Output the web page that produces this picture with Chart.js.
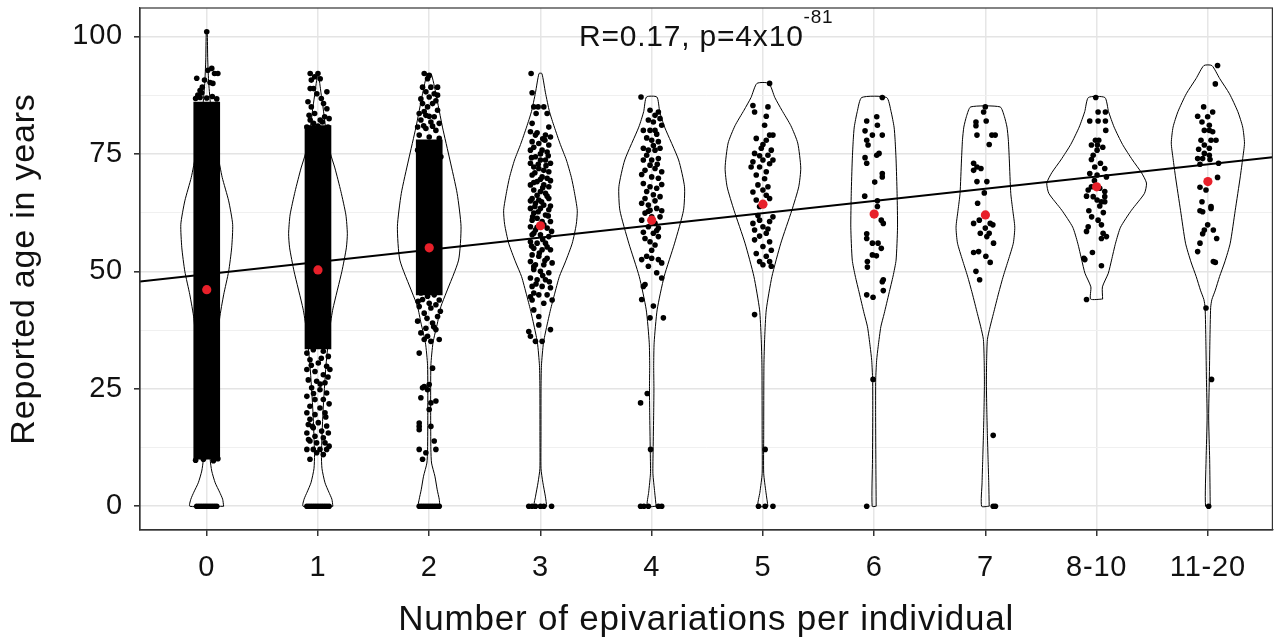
<!DOCTYPE html>
<html>
<head>
<meta charset="utf-8">
<script src="https://cdn.jsdelivr.net/npm/chart.js@4/dist/chart.umd.min.js"></script>
<style>
  html, body { margin: 0; padding: 0; background: #fff; }
  #wrap { width: 1277px; height: 642px; }
</style>
</head>
<body>
<div id="wrap"><canvas id="chart" width="1277" height="642"></canvas></div>
<script>
// ---- data ----
const categories = ['0', '1', '2', '3', '4', '5', '6', '7', '8-10', '11-20'];
const means = [46.1, 50.3, 55.0, 59.7, 60.9, 64.3, 62.2, 62.0, 68.0, 69.1];
const fitIntercept = 49.4;
const fitSlope = 2.6;
const statText = ['R=0.17, p=4x10', '-81'];
const yTicks = [0, 12.5, 25, 37.5, 50, 62.5, 75, 87.5, 100];

// solid runs of overlapping points (age from, age to) for groups 0, 1, 2
const denseBands = [[10, 86], [33.5, 81], [45, 78]];

// violin outlines: [age, half width in category units]
const violin0 = [[0,0.152],[1.5,0.143],[3,0.116],[5,0.076],[7.5,0.045],[10,0.031],[15,0.040],[20,0.054],[30,0.081],[40,0.116],[45,0.152],[50,0.197],[55,0.224],[60,0.233],[65,0.197],[70,0.139],[75,0.098],[80,0.063],[85,0.036],[90,0.018],[95,0.009],[101,0.004]];
const violin1 = [[0,0.134],[1.5,0.125],[3,0.098],[5,0.063],[8,0.036],[11,0.031],[20,0.045],[30,0.072],[38,0.107],[42,0.134],[50,0.215],[55,0.255],[58,0.264],[62,0.251],[67,0.206],[72,0.152],[75,0.113],[80,0.072],[85,0.045],[88,0.027],[92,0.004]];
const violin2 = [[0,0.096],[1.5,0.090],[3.5,0.072],[6.4,0.051],[9.2,0.021],[12,0.015],[20,0.013],[30,0.015],[34.8,0.034],[39,0.074],[42.5,0.105],[45.4,0.152],[52.4,0.264],[59.5,0.286],[66.6,0.251],[73.7,0.186],[80.7,0.119],[87.8,0.060],[92,0.018]];
const violin3 = [[0,0.056],[2,0.045],[5,0.022],[8,0.005],[15,0.0045],[25,0.005],[30,0.009],[34.8,0.027],[38,0.054],[41.8,0.090],[45,0.125],[48.9,0.170],[52,0.224],[56,0.286],[60,0.322],[63,0.331],[67,0.304],[70,0.278],[73.7,0.233],[77,0.179],[80.7,0.125],[84,0.081],[88,0.045],[92.1,0.013]];
const violin4 = [[0,0.040],[3,0.027],[7,0.011],[12,0.013],[20,0.018],[25,0.020],[30,0.018],[34.8,0.022],[41.8,0.049],[48.9,0.112],[56,0.206],[63,0.286],[68,0.295],[73.7,0.242],[80.7,0.116],[84,0.072],[87.1,0.047]];
const violin5 = [[0,0.045],[3,0.027],[7,0.007],[15,0.007],[30,0.009],[36,0.016],[41.8,0.030],[48.9,0.081],[56,0.161],[63,0.260],[68,0.322],[72,0.340],[77.3,0.313],[81,0.251],[84.3,0.170],[87,0.107],[90,0.054]];
const violin6 = [[0,0.018],[10,0.015],[20,0.013],[27,0.014],[31,0.022],[34,0.036],[38.2,0.060],[41,0.090],[45.4,0.134],[49,0.170],[52.4,0.197],[59.4,0.210],[66.6,0.206],[73.7,0.197],[78,0.188],[80.7,0.179],[84,0.152],[87,0.112]];
const violin7 = [[0,0.034],[5,0.030],[10,0.024],[15,0.018],[20,0.013],[26,0.009],[31,0.011],[35.5,0.018],[38.2,0.042],[41,0.072],[45.4,0.119],[49,0.161],[52.4,0.206],[56,0.251],[59.4,0.264],[63,0.246],[66.6,0.228],[73.7,0.215],[78,0.206],[80.7,0.194],[83,0.170],[85,0.132]];
const violin8 = [[44.1,0.054],[46.7,0.052],[49.6,0.105],[52.4,0.134],[56,0.170],[59.4,0.215],[63,0.313],[66.6,0.430],[68.8,0.448],[71,0.403],[73.7,0.322],[77,0.233],[80.7,0.157],[84,0.107],[87,0.074]];
const violin9 = [[0,0.021],[10,0.016],[19,0.007],[27,0.013],[35,0.018],[42.3,0.025],[44,0.036],[46,0.067],[48.9,0.105],[52,0.152],[56,0.201],[63,0.246],[70.1,0.291],[74,0.313],[77.3,0.329],[80.7,0.313],[84,0.269],[87.8,0.194],[91,0.107],[93.8,0.036]];

// jittered individuals: [offset from group centre, age]
const jitter0 = [[0,101],[-0.09,91.1],[-0.06,88.5],[-0.04,89.2],[0.01,92.8],[0.045,93.2],[0.07,92.1],[0.1,92.1],[0.03,90.2],[0.055,90],[-0.02,90.7],[-0.08,87.5],[-0.045,88],[-0.1,86.8],[-0.06,87],[0,86.9],[0.05,87.2],[0.09,86.7],
  [-0.1,9.8],[-0.03,10],[0.06,9.7],[0.1,10.1],
  [-0.09,0],[-0.07,0],[-0.05,0],[-0.03,0],[-0.01,0],[0.01,0],[0.03,0],[0.05,0],[0.07,0],[0.09,0]];
const jitter1 = [[-0.07,92.1],[0,92.1],[-0.03,91.4],[-0.06,90.7],[0.02,91],[-0.07,88.9],[-0.04,88.9],[-0.01,87.8],[0.08,88.2],[-0.09,86.1],[-0.06,85],[0.03,86.8],[0.05,85.7],[0.08,84.6],[-0.03,83.6],[0.06,82.9],[0.02,82.2],[-0.07,82.2],[-0.1,80.7],[0.09,80.7],[-0.04,81.5],[0,80.9],[0.04,81.8],[-0.08,83.2],[0.1,82.5],
  [-0.1,32.6],[-0.042,33.3],[0.048,33],[0.093,31.9],[-0.072,31.2],[0.003,30.5],[0.078,29.8],[-0.1,29.1],[-0.027,28.7],[0.048,28],[0.107,29.1],[-0.087,26.9],[-0.012,26.6],[0.063,26.3],[-0.057,25.2],[0.018,24.8],[0.078,24.1],[-0.1,23.4],[-0.027,22.7],[0.048,22.7],[-0.072,21.3],[0.018,20.9],[-0.1,19.9],[-0.027,19.5],[0.063,19.9],[-0.072,18.5],[0.003,17.8],[0.078,17.1],[-0.042,16.7],[0.033,16],[-0.1,15.6],[-0.027,14.9],[0.048,14.6],[-0.072,13.9],[-0.012,13.5],[0.063,13.5],[-0.1,12.1],[-0.042,12.1],[0.018,12.1],[0.078,12.1],[0.048,11],[-0.072,10],[-0.012,11.4],[0.093,15.6],[-0.087,17.4],
  [-0.06,30],[0.03,31.5],[0.09,27.5],[-0.04,24],[0.1,21.8],[0.07,19],[-0.085,14.2],[0.1,12.8],[-0.05,17],[0.02,26],
  [-0.1,0],[-0.08,0],[-0.06,0],[-0.04,0],[-0.02,0],[0,0],[0.02,0],[0.04,0],[0.06,0],[0.08,0],[0.1,0]];
const jitter2 = [[-0.045,92.1],[0,91.7],[-0.015,91],[-0.06,89.2],[0.015,89.2],[0.075,89.2],[-0.03,88.2],[0.045,87.8],[0,87.1],[0.075,87.5],[-0.06,85.7],[0.03,85.7],[-0.015,85],[0.075,84.3],[-0.09,83.6],[-0.03,83.2],[0.045,82.9],[-0.075,82.2],[0.015,81.8],[0.09,81.5],[-0.104,80.7],[-0.03,80.4],[0.06,80],[-0.09,79],[0,78.6],[0.09,78.3],[-0.06,77.2],[0.03,76.9],[-0.104,75.8],[0.075,75.4],[0.105,74.4],
  [-0.045,84],[0.06,86.3],[-0.075,86.7],[0,83],[0.03,80.9],[-0.05,81],
  [-0.075,45.4],[-0.015,44.7],[0.045,45],[0.09,43.9],[-0.09,42.5],[0.015,42.2],[-0.045,41.1],[0.075,40.4],[-0.104,39.4],[0.03,39],[-0.03,37.9],[0.06,37.6],[-0.075,36.9],[-0.015,36.2],[0.09,35.5],[0.015,35.1],[-0.045,35.5],[-0.09,32.6],[0.03,29.4],[-0.045,25.5],[0,25.9],[-0.06,25.2],[-0.015,24.8],[-0.075,23.1],[0.015,22],[0.06,22.4],[0,20.6],[-0.09,17.7],[-0.09,17],[-0.09,16.3],[0.015,17],[0.045,13.9],[-0.09,12.1],[-0.03,11.4],[-0.06,10],[0.06,12.1],
  [0,43.2],[-0.06,44],[0.06,42.9],[0.1,41.5],[-0.02,40],[0.04,38.2],[-0.1,43.6],
  [-0.09,0],[-0.07,0],[-0.05,0],[-0.03,0],[-0.01,0],[0.01,0],[0.03,0],[0.05,0],[0.07,0],[0.09,0]];
const jitter3 = [[-0.084,92.1],[-0.075,88],[-0.06,85],[-0.021,85],[0.03,85],[-0.039,83.6],[0.06,83.6],[-0.075,81.5],[0.075,80.7],[-0.09,79.7],[-0.045,79],[0.045,79],[0.09,78.6],[-0.075,77.6],[-0.015,77.2],[0.075,76.9],[-0.09,75.8],[0.015,75.8],[0.06,75.4],[-0.045,74.4],[0,73.7],[0.045,73.7],[-0.09,73],[0.09,73],[-0.06,72.2],[-0.015,71.9],[0.03,71.5],[0.075,71.2],[-0.075,70.5],[0.015,70.1],[0.06,69.8],[-0.03,69.1],[-0.09,68.4],[0.03,68.4],[0.075,68],[-0.06,67.3],[0,67],[0.045,66.6],[-0.075,65.5],[-0.015,65.2],[0.075,65.5],[-0.045,64.5],[0.03,64.1],[-0.09,63.4],[0,63.4],[0.075,63.1],[-0.06,62.4],[0.045,62],[-0.075,60.9],[-0.03,61.3],[0.015,60.6],[0.09,60.6],[-0.09,59.5],[-0.045,58.8],[0.06,59.2],[-0.075,57.8],[0,57.8],[0.075,57.4],[-0.09,56.3],[-0.03,56],[0.045,56],[-0.06,54.9],[0.015,54.6],[0.09,54.6],[-0.075,53.5],[-0.015,53.2],[0.06,52.8],[-0.09,52.1],[-0.045,51.4],[0.03,51.4],[0.105,51.8],[-0.06,50.4],[0,50],[0.075,49.7],[-0.09,48.6],[-0.03,48.2],[0.045,48.2],[-0.075,46.8],[0.015,46.8],[0.09,46.5],[-0.06,45.4],[-0.015,45],[0.06,45],
  [-0.03,79.5],[0.02,78.2],[-0.06,76.4],[0.04,77.9],[0,75],[-0.08,74.2],[0.07,74.6],[-0.02,72.8],[0.05,72.5],[-0.05,71],[0,69.6],[0.09,69.3],[-0.06,68.9],[0.02,67.8],[-0.03,66.2],[0.06,66],[-0.09,65],[0.01,64.8],[-0.05,63.8],[0.09,63.9],[-0.02,62.7],[0.07,61.8],[-0.07,61.6],[0.03,59.9],[-0.03,59.4],[0.1,58.5],[-0.06,58.1],[0.02,56.8],[-0.08,55.4],[0.06,55.2],[-0.01,53.9],[0.04,52.3],[-0.06,51],[0.02,49.1],[-0.04,47.3],[0.08,47.8],[-0.09,44.6],
  [-0.075,43.9],[0.03,43.2],[0.105,43.9],[-0.06,41.8],[-0.015,40.4],[-0.105,37.2],[-0.015,38.6],[-0.09,36.2],[-0.045,35.1],[0.015,35.1],[0.09,37.6],
  [-0.105,0],[-0.075,0],[-0.045,0],[0,0],[0.03,0],[0.1,0]];
const jitter4 = [[-0.096,87.1],[-0.015,84.3],[0.06,83.9],[0.03,83.2],[-0.03,82.2],[0.015,81.8],[0.075,82.5],[-0.075,80],[-0.015,80],[0.09,81.1],[0.03,80],[0,77.9],[0.06,77.6],[-0.075,76.2],[-0.03,75.8],[0.03,75.8],[0.075,76.2],[-0.045,74.7],[0,73.7],[0.06,74],[-0.075,73.7],[-0.015,72.6],[0.03,71.9],[-0.06,71.5],[0.09,71.2],[0,70.1],[0.06,69.8],[-0.075,68.7],[-0.015,68],[0.045,67.7],[-0.045,67],[0.015,66.3],[0.075,65.9],[-0.09,64.5],[-0.03,64.1],[0.045,63.4],[-0.06,62.4],[0,61.6],[0.075,61.6],[-0.09,60.9],[0.03,60.2],[-0.03,59.5],[0.06,59.2],[0.015,58.1],[-0.06,57],[0.06,57.4],[-0.015,56.3],[0.03,55.6],[-0.09,52.5],[-0.045,53.2],[0,52.8],[0.06,52.5],[0.09,51.8],[-0.03,51.1],[0.045,49.7],[0.09,48.6],[-0.06,47.2],[-0.075,46.8],[-0.09,44],[0.015,42.6],[-0.015,40.1],[0.105,40.1],
  [0.045,79.2],[-0.045,78.4],[0.015,76.8],[-0.06,65.5],[0.03,65],[0.09,62.9],[-0.015,63],[0.045,58.7],[-0.075,58.3],[0,54.5],[-0.03,62.8],[0.09,68.5],[-0.09,70.6],[0.05,72.8],
  [-0.1,22],[-0.04,24],[-0.01,12.1],
  [-0.1,0],[-0.07,0],[-0.03,0],[0.06,0],[0.09,0]];
const jitter5 = [[0.06,90],[-0.09,85.3],[0.045,85],[-0.075,83.9],[0.015,81.1],[0.06,79],[0.09,79],[0.03,77.9],[-0.015,76.2],[0.075,75.8],[-0.075,75.1],[0.045,74.7],[-0.09,73.3],[0,73.7],[0.09,73.7],[-0.106,72.2],[-0.03,72.2],[0.03,71.2],[-0.045,68.4],[0.045,68],[0,67.3],[-0.06,65.2],[0.06,65.5],[-0.03,63.8],[-0.09,60.2],[-0.03,60.9],[0.06,60.6],[-0.075,58.8],[0,59.5],[0.03,58.1],[-0.075,56.7],[0,55.3],[0.06,56.3],[-0.03,52.1],[0.06,52.1],[0,51.4],[0.075,51.1],[-0.075,40.8],
  [0.03,83],[-0.06,78.3],[0,77],[-0.03,74.6],[0.06,72.9],[-0.06,70.5],[0.015,69.7],[-0.09,66.9],[0.03,66.2],[0.09,61.6],[-0.045,61.9],[0.045,59],[-0.03,57.5],[0.075,54.5],[-0.06,53.8],[0.03,53.2],
  [0.02,12.1],[-0.04,0],[0.02,0],[0.09,0]];
const jitter6 = [[0.073,87],[-0.067,82],[0.023,82.9],[-0.082,79.9],[0.029,81.1],[-0.016,79],[0.073,79],[-0.067,77.9],[-0.055,76.9],[0.044,75.1],[0.023,74.7],[-0.082,74.2],[-0.067,73],[0.005,69],[0.073,70.8],[0.073,70.1],[-0.085,66],[0.029,65],[0.029,63.8],[0.064,60.9],[0.082,60.2],[-0.067,58],[-0.067,57],[-0.016,56],[0.035,56],[0.064,54.9],[-0.016,53.5],[0.02,53.3],[-0.061,52.1],[-0.061,50.9],[0.082,48.2],[0.073,47.8],[0.082,45.9],[-0.067,45],[-0.01,44.5],
  [-0.01,27],[-0.067,0]];
const jitter7 = [[-0.001,85],[-0.016,83.9],[-0.085,81.8],[0.007,82],[-0.085,81],[-0.076,79],[0.058,79],[0.088,79],[0.034,77],[-0.106,73],[-0.076,72.2],[-0.04,71.9],[-0.106,71.5],[-0.076,69.1],[0.013,69.1],[-0.01,66.7],[-0.07,64.5],[-0.106,60.2],[-0.055,60.9],[0.043,60.2],[0.067,59.9],[-0.001,59.2],[-0.046,58.1],[0.034,58.1],[0.013,57.4],[0.073,56],[-0.106,54],[-0.061,54.2],[0.004,53.2],[0.043,51.9],[-0.085,50],[-0.052,48.2],
  [0.07,15.1],[0.07,0],[0.09,0]];
const jitter8 = [[-0.008,87],[-0.062,82],[0.013,83.9],[0.079,83.9],[0.013,82],[0.079,82],[0.082,80],[-0.011,77.9],[0.019,77.9],[-0.047,76.9],[0.007,76.9],[0.004,75.8],[-0.031,74.7],[-0.047,73.8],[0.034,73],[-0.017,72.2],[0.073,71.9],[-0.062,70.8],[0.004,70.5],[0.088,70.1],[-0.047,68],[-0.076,67.3],[0.028,67.7],[0.073,67],[-0.091,66],[-0.031,65.9],[0.073,65.9],[0.004,65.2],[0.043,64.8],[0.073,64.8],[0.028,63.9],[-0.07,62.9],[0.013,60.9],[-0.076,59.5],[0.043,59.9],[-0.091,58.5],[0.058,58.1],[0.043,57],[0.088,57.4],[-0.038,54],[-0.115,52.8],[-0.106,52.5],[0.043,51.2],[-0.091,44],
  [0.055,76.4],[-0.02,69.3],[0.06,62.5],[-0.045,61.6]];
const jitter9 = [[0.087,93.8],[0.067,89.9],[-0.038,85],[0.043,83.9],[-0.092,83],[-0.002,82.9],[-0.053,81.8],[0.013,81.1],[-0.032,80],[0.013,80],[0.043,79.7],[-0.062,77.9],[0.028,77.9],[0.073,77.9],[-0.032,76.9],[-0.083,76],[0.013,76.2],[-0.032,75.1],[0.013,74.7],[-0.092,74],[-0.047,74],[0.019,73.8],[-0.071,72.8],[0.096,73],[0.087,70],[-0.071,67.9],[-0.017,67.3],[0.028,63.8],[-0.053,64.8],[-0.071,62.9],[-0.047,62.7],[0.028,63.4],[-0.002,59.9],[-0.032,58.8],[0.049,58.8],[-0.047,58],[0.079,57],[-0.071,56],[-0.092,54.2],[0.049,52.1],[0.067,51.9],[-0.017,42.2],
  [0.033,27],[0.007,0]];

const violins = [violin0, violin1, violin2, violin3, violin4, violin5, violin6, violin7, violin8, violin9];
const jitters = [jitter0, jitter1, jitter2, jitter3, jitter4, jitter5, jitter6, jitter7, jitter8, jitter9];

const FONT = '"Liberation Sans", Arial, sans-serif';
const TEXT = '#111';
const SPACING = '0.8px';   // the figure's type runs a touch wider than Liberation Sans
const X_MIN = -0.6, X_MAX = 9.58;
const Y_MIN = -5.05, Y_MAX = 106.05;

Chart.defaults.font.family = FONT;
Chart.defaults.color = TEXT;

function outline(centre, profile) {
    const right = profile.map(([age, w]) => ({ x: centre + w, y: age }));
    const left = profile.slice().reverse().map(([age, w]) => ({ x: centre - w, y: age }));
    return right.concat(left, [right[0]]);
}

const violinSets = violins.map((prof, i) => ({
    type: 'scatter',
    data: outline(i, prof),
    showLine: true,
    borderColor: '#000',
    borderWidth: 1,
    tension: 0.2,
    pointRadius: 0,
    fill: false,
    order: 5
}));

const bandSet = {
    type: 'bar',
    data: denseBands.map(([lo, hi], i) => ({ x: i, y: [lo, hi] })),
    backgroundColor: '#000',
    borderWidth: 0,
    barThickness: 26,
    grouped: false,
    order: 4
};

const dotSet = {
    type: 'scatter',
    data: jitters.flatMap((set, i) => set.map(([dx, age]) => ({ x: i + dx, y: age }))),
    pointRadius: 2.8,
    pointBackgroundColor: '#000',
    pointBorderWidth: 0,
    order: 3
};

const fitSet = {
    type: 'scatter',
    data: [X_MIN, X_MAX].map(x => ({ x: x, y: fitIntercept + fitSlope * x })),
    showLine: true,
    borderColor: '#000',
    borderWidth: 2,
    pointRadius: 0,
    order: 2
};

const meanSet = {
    type: 'scatter',
    data: means.map((m, i) => ({ x: i, y: m })),
    pointRadius: 4.6,
    pointBackgroundColor: '#e8202a',
    pointBorderWidth: 0,
    order: 1
};

// slightly wider letter spacing for every label the chart writes
const textSpacing = {
    id: 'textSpacing',
    beforeUpdate(chart) { chart.ctx.letterSpacing = SPACING; },
    beforeDraw(chart) { chart.ctx.letterSpacing = SPACING; }
};

// panel frame + the statistics label inside the panel
const panelExtras = {
    id: 'panelExtras',
    afterDraw(chart) {
        const { ctx, chartArea: a } = chart;
        ctx.save();
        ctx.strokeStyle = '#333';
        ctx.lineWidth = 1.2;
        ctx.strokeRect(a.left, a.top, a.right - a.left, a.bottom - a.top);

        ctx.fillStyle = TEXT;
        ctx.textBaseline = 'alphabetic';
        ctx.font = '30px ' + FONT;
        const w1 = ctx.measureText(statText[0]).width;
        ctx.font = '19px ' + FONT;
        const w2 = ctx.measureText(statText[1]).width;
        const x0 = (a.left + a.right) / 2 - (w1 + w2) / 2;
        ctx.font = '30px ' + FONT;
        ctx.fillText(statText[0], x0, 46);
        ctx.font = '19px ' + FONT;
        ctx.fillText(statText[1], x0 + w1, 23);
        ctx.restore();
    }
};

const major = v => v % 25 === 0;

new Chart(document.getElementById('chart'), {
    type: 'scatter',
    data: { datasets: [...violinSets, bandSet, dotSet, fitSet, meanSet] },
    options: {
        responsive: false,
        devicePixelRatio: 1,
        animation: false,
        events: [],
        layout: { padding: { top: 8, right: 0, left: 0, bottom: 0 } },
        plugins: { legend: { display: false }, tooltip: { enabled: false } },
        scales: {
            x: {
                type: 'linear',
                min: X_MIN,
                max: X_MAX,
                offset: false,
                afterBuildTicks: s => { s.ticks = categories.map((c, i) => ({ value: i })); },
                afterFit: s => { s.height = 112; s.paddingLeft = 0; s.paddingRight = 0; },
                ticks: {
                    autoSkip: false,
                    maxRotation: 0,
                    padding: 15,
                    font: { size: 29 },
                    color: TEXT,
                    callback: (v, i) => categories[i]
                },
                grid: { offset: false, color: '#e6e6e6', lineWidth: 1.5, tickColor: '#333', tickLength: 6 },
                border: { display: true, color: '#333', width: 1.2 },
                title: {
                    display: true,
                    text: 'Number of epivariations per individual',
                    font: { size: 35 },
                    color: TEXT,
                    padding: { top: 0, bottom: 1 }
                }
            },
            y: {
                type: 'linear',
                min: Y_MIN,
                max: Y_MAX,
                afterBuildTicks: s => { s.ticks = yTicks.map(v => ({ value: v })); },
                afterFit: s => { s.width = 140; s.paddingTop = 0; s.paddingBottom = 0; },
                ticks: {
                    autoSkip: false,
                    padding: 11,
                    font: { size: 29 },
                    color: TEXT,
                    callback: v => (major(v) ? String(v) : '')
                },
                grid: {
                    color: c => (major(c.tick.value) ? '#e4e4e4' : '#f0f0f0'),
                    lineWidth: c => (major(c.tick.value) ? 1.6 : 1),
                    tickColor: c => (major(c.tick.value) ? '#333' : 'rgba(0,0,0,0)'),
                    tickLength: 6
                },
                border: { display: true, color: '#333', width: 1.2 },
                title: {
                    display: true,
                    text: 'Reported age in years',
                    font: { size: 34 },
                    color: TEXT,
                    padding: { top: 4, bottom: 0 }
                }
            }
        }
    },
    plugins: [textSpacing, panelExtras]
});
</script>
</body>
</html>
